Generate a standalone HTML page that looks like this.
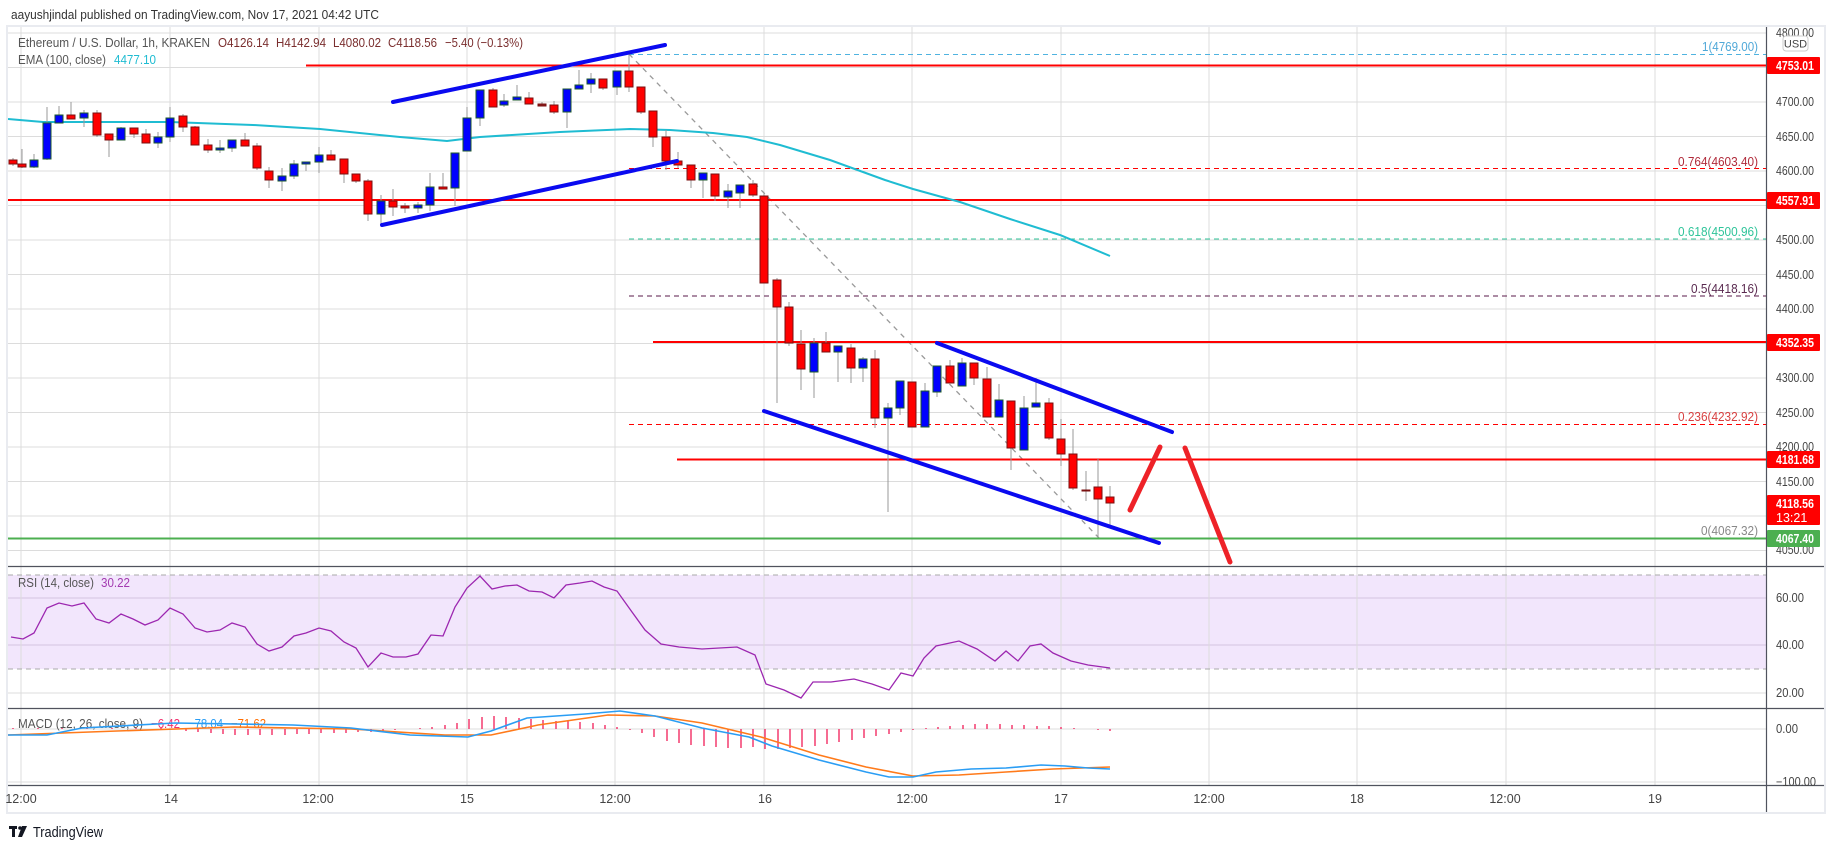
<!DOCTYPE html>
<html><head><meta charset="utf-8"><style>
body{margin:0;background:#fff;}
svg{display:block;font-family:"Liberation Sans",sans-serif;}
</style></head><body>
<svg width="1834" height="848" viewBox="0 0 1834 848" xmlns="http://www.w3.org/2000/svg">
<rect x="0" y="0" width="1834" height="848" fill="#fff"/>
<text x="11" y="19" font-size="13" fill="#333" textLength="368" lengthAdjust="spacingAndGlyphs">aayushjindal published on TradingView.com, Nov 17, 2021 04:42 UTC</text>
<rect x="7" y="26" width="1818" height="787" fill="#fff" stroke="#e9ebf0" stroke-width="2"/>
<defs>
<clipPath id="cp"><rect x="8" y="27" width="1758" height="539"/></clipPath>
<clipPath id="cr"><rect x="8" y="567" width="1758" height="141"/></clipPath>
<clipPath id="cm"><rect x="8" y="709" width="1758" height="76"/></clipPath>
</defs>
<rect x="8" y="575" width="1758" height="94" fill="#f2e6fc"/>
<g stroke="#dcdcdc" stroke-width="1">
<line x1="8" x2="1766" y1="33" y2="33"/><line x1="8" x2="1766" y1="67.5" y2="67.5"/><line x1="8" x2="1766" y1="102" y2="102"/><line x1="8" x2="1766" y1="136.5" y2="136.5"/><line x1="8" x2="1766" y1="171" y2="171"/><line x1="8" x2="1766" y1="205.5" y2="205.5"/><line x1="8" x2="1766" y1="240" y2="240"/><line x1="8" x2="1766" y1="274.5" y2="274.5"/><line x1="8" x2="1766" y1="309" y2="309"/><line x1="8" x2="1766" y1="343.5" y2="343.5"/><line x1="8" x2="1766" y1="378" y2="378"/><line x1="8" x2="1766" y1="412.5" y2="412.5"/><line x1="8" x2="1766" y1="447" y2="447"/><line x1="8" x2="1766" y1="481.5" y2="481.5"/><line x1="8" x2="1766" y1="516" y2="516"/><line x1="8" x2="1766" y1="550.5" y2="550.5"/>
<line x1="8" x2="1766" y1="598" y2="598" stroke="#d4c4e0"/><line x1="8" x2="1766" y1="645" y2="645" stroke="#d4c4e0"/><line x1="8" x2="1766" y1="693" y2="693"/>
<line x1="8" x2="1766" y1="729" y2="729"/><line x1="8" x2="1766" y1="782" y2="782"/>
<line x1="21" x2="21" y1="27" y2="785"/><line x1="170" x2="170" y1="27" y2="785"/><line x1="319" x2="319" y1="27" y2="785"/><line x1="467" x2="467" y1="27" y2="785"/><line x1="615" x2="615" y1="27" y2="785"/><line x1="764" x2="764" y1="27" y2="785"/><line x1="912" x2="912" y1="27" y2="785"/><line x1="1061" x2="1061" y1="27" y2="785"/><line x1="1209" x2="1209" y1="27" y2="785"/><line x1="1357" x2="1357" y1="27" y2="785"/><line x1="1506" x2="1506" y1="27" y2="785"/><line x1="1655" x2="1655" y1="27" y2="785"/>
</g>
<line x1="8" x2="1766" y1="575" y2="575" stroke="#aaa" stroke-dasharray="5,4"/>
<line x1="8" x2="1766" y1="669" y2="669" stroke="#aaa" stroke-dasharray="5,4"/>
<g clip-path="url(#cp)">
<g stroke-width="1" stroke-dasharray="5,4">
<line x1="629" x2="1766" y1="54.5" y2="54.5" stroke="#4fb3e0"/>
<line x1="629" x2="1766" y1="168.5" y2="168.5" stroke="#f00"/>
<line x1="629" x2="1766" y1="239" y2="239" stroke="#2fc49a"/>
<line x1="629" x2="1766" y1="296" y2="296" stroke="#5a1a48"/>
<line x1="629" x2="1766" y1="424.5" y2="424.5" stroke="#f00"/>
</g>
<line x1="629" y1="54" x2="1100" y2="539" stroke="#999" stroke-width="1.3" stroke-dasharray="5,5"/>
<g font-size="13" text-anchor="end" lengthAdjust="spacingAndGlyphs">
<text x="1758" y="51" fill="#4fa8d8" textLength="56" lengthAdjust="spacingAndGlyphs">1(4769.00)</text>
<text x="1758" y="166" fill="#b02a3a" textLength="80" lengthAdjust="spacingAndGlyphs">0.764(4603.40)</text>
<text x="1758" y="236" fill="#2fc49a" textLength="80" lengthAdjust="spacingAndGlyphs">0.618(4500.96)</text>
<text x="1758" y="293" fill="#5a2a50" textLength="67" lengthAdjust="spacingAndGlyphs">0.5(4418.16)</text>
<text x="1758" y="421" fill="#d84040" textLength="80" lengthAdjust="spacingAndGlyphs">0.236(4232.92)</text>
<text x="1758" y="535" fill="#888" textLength="57" lengthAdjust="spacingAndGlyphs">0(4067.32)</text>
</g>
<g stroke="#f00" stroke-width="2">
<line x1="306" x2="1766" y1="65.5" y2="65.5"/>
<line x1="8" x2="1766" y1="200" y2="200"/>
<line x1="653" x2="1766" y1="342" y2="342"/>
<line x1="677" x2="1766" y1="459.5" y2="459.5"/>
</g>
<line x1="8" x2="1766" y1="538.5" y2="538.5" stroke="#4caf50" stroke-width="2"/>
<polyline fill="none" stroke="#1fbcd2" stroke-width="2" points="8,119 43,122 170,122 253,125 320,129 400,137 447,141 480,137 560,132 630,129 670,130 713,133 747,137 780,145 830,160 885,180 913,189 960,202 1010,219 1060,235 1110,256"/>
<g stroke-width="1">
<g stroke="#999">
<line x1="13" x2="13" y1="158" y2="166"/><line x1="22" x2="22" y1="149" y2="168"/><line x1="34" x2="34" y1="154" y2="168"/><line x1="47" x2="47" y1="107" y2="160"/><line x1="59" x2="59" y1="106" y2="123"/><line x1="71" x2="71" y1="102" y2="119"/><line x1="84" x2="84" y1="110" y2="127"/><line x1="97" x2="97" y1="110" y2="137"/><line x1="109" x2="109" y1="134" y2="157"/><line x1="121" x2="121" y1="127" y2="140"/><line x1="134" x2="134" y1="128" y2="138"/><line x1="146" x2="146" y1="129" y2="143"/><line x1="158" x2="158" y1="132" y2="148"/><line x1="170" x2="170" y1="107" y2="142"/><line x1="183" x2="183" y1="114" y2="132"/><line x1="195" x2="195" y1="126" y2="145"/><line x1="208" x2="208" y1="139" y2="153"/><line x1="220" x2="220" y1="140" y2="153"/><line x1="232" x2="232" y1="140" y2="152"/><line x1="245" x2="245" y1="133" y2="146"/><line x1="257" x2="257" y1="143" y2="170"/><line x1="269" x2="269" y1="167" y2="188"/><line x1="282" x2="282" y1="168" y2="191"/><line x1="294" x2="294" y1="160" y2="179"/><line x1="306" x2="306" y1="162" y2="171"/><line x1="319" x2="319" y1="147" y2="173"/><line x1="331" x2="331" y1="150" y2="160"/><line x1="344" x2="344" y1="159" y2="183"/><line x1="356" x2="356" y1="174" y2="183"/><line x1="368" x2="368" y1="179" y2="221"/><line x1="381" x2="381" y1="195" y2="224"/><line x1="393" x2="393" y1="189" y2="216"/><line x1="405" x2="405" y1="203" y2="213"/><line x1="418" x2="418" y1="202" y2="213"/><line x1="430" x2="430" y1="173" y2="211"/><line x1="443" x2="443" y1="173" y2="189"/><line x1="455" x2="455" y1="153" y2="206"/><line x1="467" x2="467" y1="107" y2="151"/><line x1="480" x2="480" y1="90" y2="126"/><line x1="493" x2="493" y1="88" y2="107"/><line x1="504" x2="504" y1="94" y2="107"/><line x1="517" x2="517" y1="85" y2="100"/><line x1="529" x2="529" y1="92" y2="104"/><line x1="542" x2="542" y1="102" y2="106"/><line x1="554" x2="554" y1="101" y2="114"/><line x1="567" x2="567" y1="89" y2="128"/><line x1="579" x2="579" y1="70" y2="89"/><line x1="591" x2="591" y1="73" y2="93"/><line x1="603" x2="603" y1="79" y2="90"/><line x1="617" x2="617" y1="71" y2="95"/><line x1="629" x2="629" y1="54" y2="92"/><line x1="641" x2="641" y1="87" y2="114"/><line x1="653" x2="653" y1="111" y2="147"/><line x1="666" x2="666" y1="130" y2="170"/><line x1="678" x2="678" y1="152" y2="168"/><line x1="691" x2="691" y1="165" y2="188"/><line x1="703" x2="703" y1="173" y2="198"/><line x1="715" x2="715" y1="174" y2="201"/><line x1="728" x2="728" y1="184" y2="208"/><line x1="740" x2="740" y1="185" y2="208"/><line x1="753" x2="753" y1="180" y2="197"/><line x1="764" x2="764" y1="193" y2="283"/><line x1="777" x2="777" y1="278" y2="403"/><line x1="789" x2="789" y1="302" y2="346"/><line x1="801" x2="801" y1="330" y2="390"/><line x1="814" x2="814" y1="338" y2="398"/><line x1="826" x2="826" y1="332" y2="352"/><line x1="838" x2="838" y1="346" y2="382"/><line x1="851" x2="851" y1="344" y2="383"/><line x1="863" x2="863" y1="357" y2="382"/><line x1="875" x2="875" y1="350" y2="428"/><line x1="888" x2="888" y1="403" y2="512"/><line x1="900" x2="900" y1="381" y2="415"/><line x1="912" x2="912" y1="382" y2="427"/><line x1="925" x2="925" y1="383" y2="427"/><line x1="937" x2="937" y1="366" y2="397"/><line x1="950" x2="950" y1="360" y2="383"/><line x1="962" x2="962" y1="358" y2="386"/><line x1="974" x2="974" y1="363" y2="385"/><line x1="987" x2="987" y1="367" y2="417"/><line x1="999" x2="999" y1="384" y2="417"/><line x1="1011" x2="1011" y1="401" y2="470"/><line x1="1024" x2="1024" y1="396" y2="450"/><line x1="1036" x2="1036" y1="378" y2="407"/><line x1="1049" x2="1049" y1="398" y2="440"/><line x1="1061" x2="1061" y1="419" y2="466"/><line x1="1073" x2="1073" y1="429" y2="490"/><line x1="1086" x2="1086" y1="471" y2="501"/><line x1="1098" x2="1098" y1="459" y2="537"/><line x1="1110" x2="1110" y1="486" y2="525"/>
</g>
<g fill="#f00" stroke="#7a1010">
<rect x="9" y="160" width="8" height="4"/><rect x="18" y="164" width="8" height="3"/><rect x="67" y="115" width="8" height="4"/><rect x="93" y="113" width="8" height="22"/><rect x="105" y="134" width="8" height="6"/><rect x="130" y="128" width="8" height="6"/><rect x="142" y="134" width="8" height="9"/><rect x="179" y="116" width="8" height="11"/><rect x="191" y="127" width="8" height="18"/><rect x="204" y="145" width="8" height="5"/><rect x="241" y="140" width="8" height="6"/><rect x="253" y="146" width="8" height="22"/><rect x="265" y="171" width="8" height="9"/><rect x="327" y="155" width="8" height="5"/><rect x="340" y="159" width="8" height="15"/><rect x="352" y="174" width="8" height="7"/><rect x="364" y="181" width="8" height="33"/><rect x="389" y="201" width="8" height="6"/><rect x="401" y="206" width="8" height="2"/><rect x="439" y="187" width="8" height="2"/><rect x="489" y="90" width="8" height="17"/><rect x="525" y="98" width="8" height="6"/><rect x="538" y="104" width="8" height="2" fill="#8b1a1a"/><rect x="550" y="105" width="8" height="7"/><rect x="599" y="79" width="8" height="9"/><rect x="625" y="71" width="8" height="16"/><rect x="637" y="87" width="8" height="25"/><rect x="649" y="111" width="8" height="26"/><rect x="662" y="137" width="8" height="24"/><rect x="674" y="161" width="8" height="4"/><rect x="687" y="165" width="8" height="15"/><rect x="711" y="174" width="8" height="22"/><rect x="749" y="184" width="8" height="11"/><rect x="760" y="196" width="8" height="87"/><rect x="773" y="280" width="8" height="27"/><rect x="785" y="307" width="8" height="36"/><rect x="797" y="344" width="8" height="25"/><rect x="822" y="343" width="8" height="9"/><rect x="847" y="348" width="8" height="20"/><rect x="871" y="359" width="8" height="59"/><rect x="908" y="382" width="8" height="45"/><rect x="946" y="366" width="8" height="17"/><rect x="970" y="363" width="8" height="15"/><rect x="983" y="379" width="8" height="38"/><rect x="1007" y="401" width="8" height="47"/><rect x="1045" y="403" width="8" height="35"/><rect x="1057" y="439" width="8" height="15"/><rect x="1069" y="454" width="8" height="34"/><rect x="1082" y="490" width="8" height="1" fill="#8b1a1a"/><rect x="1094" y="487" width="8" height="12"/><rect x="1106" y="497" width="8" height="6"/>
</g>
<g fill="#0000ff" stroke="#1d5a2a">
<rect x="30" y="160" width="8" height="7"/><rect x="43" y="123" width="8" height="36"/><rect x="55" y="115" width="8" height="8"/><rect x="80" y="113" width="8" height="5"/><rect x="117" y="128" width="8" height="12"/><rect x="154" y="137" width="8" height="6"/><rect x="166" y="118" width="8" height="19"/><rect x="216" y="148" width="8" height="2"/><rect x="228" y="140" width="8" height="8"/><rect x="278" y="176" width="8" height="5"/><rect x="290" y="164" width="8" height="12"/><rect x="302" y="162" width="8" height="2"/><rect x="315" y="155" width="8" height="7"/><rect x="377" y="201" width="8" height="13"/><rect x="414" y="205" width="8" height="3"/><rect x="426" y="187" width="8" height="18"/><rect x="451" y="153" width="8" height="35"/><rect x="463" y="118" width="8" height="33"/><rect x="476" y="90" width="8" height="28"/><rect x="500" y="101" width="8" height="4"/><rect x="513" y="97" width="8" height="3"/><rect x="563" y="89" width="8" height="23"/><rect x="575" y="85" width="8" height="4"/><rect x="587" y="79" width="8" height="5"/><rect x="613" y="71" width="8" height="16"/><rect x="699" y="173" width="8" height="7"/><rect x="724" y="191" width="8" height="6"/><rect x="736" y="185" width="8" height="8"/><rect x="810" y="343" width="8" height="29"/><rect x="834" y="346" width="8" height="6"/><rect x="859" y="359" width="8" height="9"/><rect x="884" y="408" width="8" height="10"/><rect x="896" y="381" width="8" height="27"/><rect x="921" y="391" width="8" height="36"/><rect x="933" y="366" width="8" height="26"/><rect x="958" y="363" width="8" height="23"/><rect x="995" y="400" width="8" height="17"/><rect x="1020" y="408" width="8" height="42"/><rect x="1032" y="403" width="8" height="4"/>
</g>
</g>
<g stroke="#0a0af0" stroke-width="4" stroke-linecap="round">
<line x1="393" y1="102" x2="665" y2="45"/>
<line x1="382" y1="225" x2="677" y2="161"/>
<line x1="937" y1="343" x2="1172" y2="432"/>
<line x1="764" y1="411" x2="1159" y2="543"/>
</g>
<g stroke="#ee2228" stroke-width="5" stroke-linecap="round">
<line x1="1130" y1="510" x2="1160" y2="447"/>
<line x1="1185" y1="448" x2="1230" y2="562"/>
</g>
</g>
<g font-size="13">
<text x="18" y="47" fill="#555" textLength="192" lengthAdjust="spacingAndGlyphs">Ethereum / U.S. Dollar, 1h, KRAKEN</text>
<text x="218" y="47" fill="#7a2e2e" textLength="51" lengthAdjust="spacingAndGlyphs">O4126.14</text>
<text x="276" y="47" fill="#7a2e2e" textLength="50" lengthAdjust="spacingAndGlyphs">H4142.94</text>
<text x="333" y="47" fill="#7a2e2e" textLength="48" lengthAdjust="spacingAndGlyphs">L4080.02</text>
<text x="388" y="47" fill="#7a2e2e" textLength="49" lengthAdjust="spacingAndGlyphs">C4118.56</text>
<text x="445" y="47" fill="#7a2e2e" textLength="78" lengthAdjust="spacingAndGlyphs">−5.40 (−0.13%)</text>
<text x="18" y="64" fill="#555" textLength="88" lengthAdjust="spacingAndGlyphs">EMA (100, close)</text>
<text x="114" y="64" fill="#1fbcd2" textLength="42" lengthAdjust="spacingAndGlyphs">4477.10</text>
<text x="18" y="587" fill="#555" textLength="76" lengthAdjust="spacingAndGlyphs">RSI (14, close)</text>
<text x="101" y="587" fill="#a33ab0" textLength="29" lengthAdjust="spacingAndGlyphs">30.22</text>
<text x="18" y="728" fill="#555" textLength="125" lengthAdjust="spacingAndGlyphs">MACD (12, 26, close, 9)</text>
<text x="151" y="728" fill="#f0306e" textLength="29" lengthAdjust="spacingAndGlyphs">−6.42</text>
<text x="188" y="728" fill="#2a9df4" textLength="35" lengthAdjust="spacingAndGlyphs">−78.04</text>
<text x="231" y="728" fill="#ff6d00" textLength="35" lengthAdjust="spacingAndGlyphs">−71.62</text>
</g>
<g clip-path="url(#cr)">
<polyline fill="none" stroke="#9c27b0" stroke-width="1.3" points="11,637 23,639 34,633 47,608 59,603 72,606 84,603 96,619 109,623 121,614 133,619 145,625 158,620 170,608 183,614 195,628 207,632 220,630 232,623 245,627 257,644 269,651 282,647 294,636 306,633 319,628 331,631 344,642 356,648 368,667 381,653 393,657 406,657 418,654 431,635 443,636 455,607 467,588 480,576 492,589 505,586 517,585 529,591 542,592 554,598 566,585 580,583 592,581 604,587 617,591 632,612 645,630 661,644 679,647 702,649 737,647 755,655 766,684 784,690 801,698 813,682 831,682 854,679 872,684 889,690 901,673 913,676 924,658 936,646 959,641 977,649 995,661 1006,651 1018,661 1030,646 1041,644 1053,653 1071,661 1088,665 1110,668"/>
</g>
<g clip-path="url(#cm)">
<g stroke="#f23a6e" stroke-width="1.5">
<line x1="13" x2="13" y1="729" y2="728"/><line x1="38" x2="38" y1="729" y2="728"/><line x1="62" x2="62" y1="729" y2="728"/><line x1="87" x2="87" y1="729" y2="728"/><line x1="112" x2="112" y1="729" y2="728"/><line x1="136" x2="136" y1="729" y2="728"/><line x1="161" x2="161" y1="729" y2="728"/>
<line x1="186" x2="186" y1="729" y2="731"/><line x1="198" x2="198" y1="729" y2="732"/><line x1="211" x2="211" y1="729" y2="733"/><line x1="223" x2="223" y1="729" y2="734"/><line x1="235" x2="235" y1="729" y2="735"/><line x1="248" x2="248" y1="729" y2="735"/><line x1="260" x2="260" y1="729" y2="735"/><line x1="272" x2="272" y1="729" y2="735"/><line x1="285" x2="285" y1="729" y2="735"/><line x1="297" x2="297" y1="729" y2="734"/><line x1="309" x2="309" y1="729" y2="734"/><line x1="321" x2="321" y1="729" y2="733"/><line x1="334" x2="334" y1="729" y2="733"/><line x1="346" x2="346" y1="729" y2="733"/><line x1="358" x2="358" y1="729" y2="732"/><line x1="371" x2="371" y1="729" y2="732"/><line x1="383" x2="383" y1="729" y2="731"/><line x1="395" x2="395" y1="729" y2="730"/>
<line x1="420" x2="420" y1="729" y2="728"/><line x1="432" x2="432" y1="729" y2="727"/><line x1="445" x2="445" y1="729" y2="725"/><line x1="457" x2="457" y1="729" y2="723"/><line x1="469" x2="469" y1="729" y2="719"/><line x1="482" x2="482" y1="729" y2="717"/><line x1="494" x2="494" y1="729" y2="716"/><line x1="506" x2="506" y1="729" y2="717"/><line x1="519" x2="519" y1="729" y2="718"/><line x1="531" x2="531" y1="729" y2="719"/><line x1="543" x2="543" y1="729" y2="720"/><line x1="556" x2="556" y1="729" y2="721"/><line x1="568" x2="568" y1="729" y2="721"/><line x1="580" x2="580" y1="729" y2="722"/><line x1="593" x2="593" y1="729" y2="723"/><line x1="605" x2="605" y1="729" y2="725"/><line x1="617" x2="617" y1="729" y2="727"/>
<line x1="630" x2="630" y1="729" y2="730"/><line x1="642" x2="642" y1="729" y2="733"/><line x1="654" x2="654" y1="729" y2="737"/><line x1="667" x2="667" y1="729" y2="741"/><line x1="679" x2="679" y1="729" y2="743"/><line x1="691" x2="691" y1="729" y2="745"/><line x1="704" x2="704" y1="729" y2="746"/><line x1="716" x2="716" y1="729" y2="747"/><line x1="728" x2="728" y1="729" y2="748"/><line x1="741" x2="741" y1="729" y2="748"/><line x1="753" x2="753" y1="729" y2="747"/><line x1="765" x2="765" y1="729" y2="749"/><line x1="778" x2="778" y1="729" y2="749"/><line x1="790" x2="790" y1="729" y2="748"/><line x1="802" x2="802" y1="729" y2="747"/><line x1="815" x2="815" y1="729" y2="746"/><line x1="827" x2="827" y1="729" y2="744"/><line x1="839" x2="839" y1="729" y2="742"/><line x1="852" x2="852" y1="729" y2="740"/><line x1="864" x2="864" y1="729" y2="738"/><line x1="876" x2="876" y1="729" y2="736"/><line x1="889" x2="889" y1="729" y2="734"/><line x1="901" x2="901" y1="729" y2="732"/><line x1="913" x2="913" y1="729" y2="730"/>
<line x1="926" x2="926" y1="729" y2="728"/><line x1="938" x2="938" y1="729" y2="727"/><line x1="950" x2="950" y1="729" y2="726"/><line x1="963" x2="963" y1="729" y2="725"/><line x1="975" x2="975" y1="729" y2="724"/><line x1="987" x2="987" y1="729" y2="724"/><line x1="1000" x2="1000" y1="729" y2="724"/><line x1="1012" x2="1012" y1="729" y2="725"/><line x1="1024" x2="1024" y1="729" y2="725"/><line x1="1037" x2="1037" y1="729" y2="726"/><line x1="1049" x2="1049" y1="729" y2="726"/><line x1="1061" x2="1061" y1="729" y2="727"/><line x1="1074" x2="1074" y1="729" y2="728"/><line x1="1098" x2="1098" y1="729" y2="730"/><line x1="1110" x2="1110" y1="729" y2="731"/>
</g>
<polyline fill="none" stroke="#ff7a1a" stroke-width="1.6" points="8,735 117,731 234,727 351,729 445,735 491,735 538,725 608,715 655,716 702,723 761,737 819,755 866,767 913,776 959,775 1006,772 1053,769 1110,767"/>
<polyline fill="none" stroke="#2a9df4" stroke-width="1.6" points="8,735 47,735 82,728 175,723 293,725 351,728 410,735 468,737 491,731 527,718 585,714 620,711 655,716 702,728 749,737 772,746 819,760 866,772 889,777 913,777 936,772 971,769 1006,768 1041,765 1065,766 1088,768 1110,769"/>
</g>
<g stroke="#50535e" stroke-width="1.2">
<line x1="8" x2="1824" y1="566.5" y2="566.5"/>
<line x1="8" x2="1824" y1="708.5" y2="708.5"/>
<line x1="8" x2="1824" y1="785.5" y2="785.5"/>
<line x1="1766.5" x2="1766.5" y1="27" y2="812"/>
</g>
<g font-size="12.5" fill="#444">
<text x="1776" y="37" textLength="38" lengthAdjust="spacingAndGlyphs">4800.00</text>
<text x="1776" y="106" textLength="38" lengthAdjust="spacingAndGlyphs">4700.00</text>
<text x="1776" y="141" textLength="38" lengthAdjust="spacingAndGlyphs">4650.00</text>
<text x="1776" y="175" textLength="38" lengthAdjust="spacingAndGlyphs">4600.00</text>
<text x="1776" y="244" textLength="38" lengthAdjust="spacingAndGlyphs">4500.00</text>
<text x="1776" y="279" textLength="38" lengthAdjust="spacingAndGlyphs">4450.00</text>
<text x="1776" y="313" textLength="38" lengthAdjust="spacingAndGlyphs">4400.00</text>
<text x="1776" y="382" textLength="38" lengthAdjust="spacingAndGlyphs">4300.00</text>
<text x="1776" y="417" textLength="38" lengthAdjust="spacingAndGlyphs">4250.00</text>
<text x="1776" y="451" textLength="38" lengthAdjust="spacingAndGlyphs">4200.00</text>
<text x="1776" y="486" textLength="38" lengthAdjust="spacingAndGlyphs">4150.00</text>
<text x="1776" y="554" textLength="38" lengthAdjust="spacingAndGlyphs">4050.00</text>
<text x="1776" y="602" textLength="28" lengthAdjust="spacingAndGlyphs">60.00</text>
<text x="1776" y="649" textLength="28" lengthAdjust="spacingAndGlyphs">40.00</text>
<text x="1776" y="697" textLength="28" lengthAdjust="spacingAndGlyphs">20.00</text>
<text x="1776" y="733" textLength="22" lengthAdjust="spacingAndGlyphs">0.00</text>
<text x="1776" y="786" textLength="40" lengthAdjust="spacingAndGlyphs">−100.00</text>
</g>
<rect x="1783" y="36" width="25" height="15" rx="3" fill="#fff" stroke="#ccc"/>
<text x="1795.5" y="47.5" font-size="11" fill="#444" text-anchor="middle">USD</text>
<g font-size="12.5" font-weight="bold" fill="#fff">
<rect x="1767" y="57" width="53" height="17" fill="#f00" rx="1"/><text x="1776" y="70" textLength="38" lengthAdjust="spacingAndGlyphs">4753.01</text>
<rect x="1767" y="192" width="53" height="17" fill="#f00" rx="1"/><text x="1776" y="205" textLength="38" lengthAdjust="spacingAndGlyphs">4557.91</text>
<rect x="1767" y="334" width="53" height="17" fill="#f00" rx="1"/><text x="1776" y="347" textLength="38" lengthAdjust="spacingAndGlyphs">4352.35</text>
<rect x="1767" y="451" width="53" height="17" fill="#f00" rx="1"/><text x="1776" y="464" textLength="38" lengthAdjust="spacingAndGlyphs">4181.68</text>
<rect x="1767" y="495" width="53" height="30" fill="#f00" rx="1"/><text x="1776" y="508" textLength="38" lengthAdjust="spacingAndGlyphs">4118.56</text><text x="1776" y="522" font-weight="normal">13:21</text>
<rect x="1767" y="530" width="53" height="17" fill="#4caf50" rx="1"/><text x="1776" y="543" textLength="38" lengthAdjust="spacingAndGlyphs">4067.40</text>
</g>
<g font-size="12.5" fill="#444" text-anchor="middle">
<text x="21" y="803">12:00</text><text x="171" y="803">14</text><text x="318" y="803">12:00</text><text x="467" y="803">15</text><text x="615" y="803">12:00</text><text x="765" y="803">16</text><text x="912" y="803">12:00</text><text x="1061" y="803">17</text><text x="1209" y="803">12:00</text><text x="1357" y="803">18</text><text x="1505" y="803">12:00</text><text x="1655" y="803">19</text>
</g>
<g fill="#131722">
<rect x="9" y="826" width="8" height="3"/><rect x="12" y="826" width="3" height="11"/>
<circle cx="20" cy="828" r="1.8"/>
<polygon points="22,826 27,826 22,837 18,837"/>
</g>
<text x="33" y="837" font-size="15" fill="#131722" textLength="70" lengthAdjust="spacingAndGlyphs">TradingView</text>
</svg>
</body></html>
